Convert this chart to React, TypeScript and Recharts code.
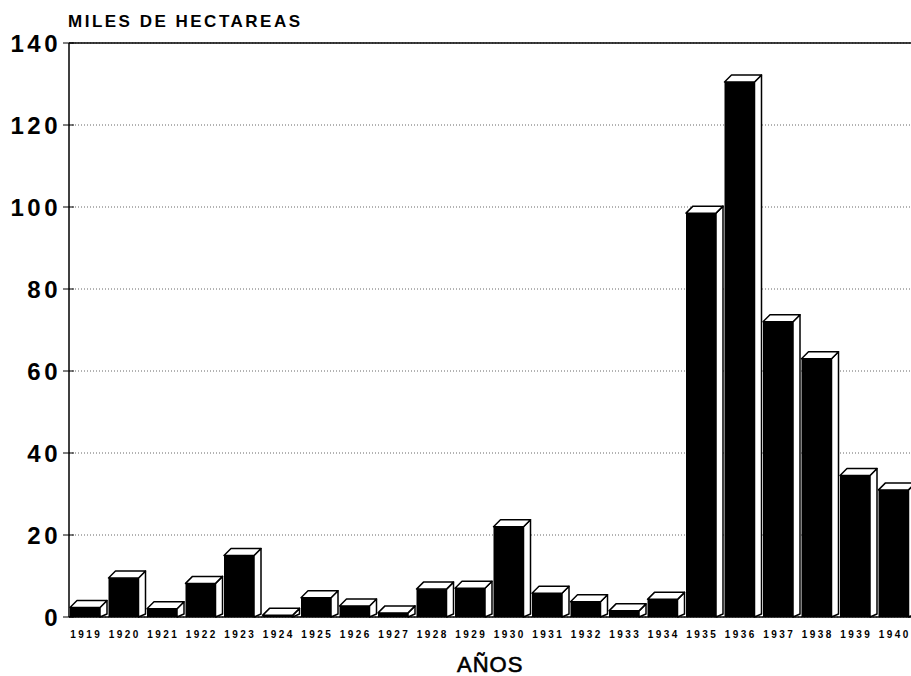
import { BarChart, Bar, XAxis, YAxis, CartesianGrid, ReferenceLine } from 'recharts';

const years = [
  '1919', '1920', '1921', '1922', '1923', '1924', '1925', '1926', '1927', '1928', '1929',
  '1930', '1931', '1932', '1933', '1934', '1935', '1936', '1937', '1938', '1939', '1940',
];
const hectareas = [
  2.3, 9.5, 2, 8.2, 15, 0.4, 4.7, 2.7, 1, 6.8, 7,
  22, 5.8, 3.7, 1.5, 4.3, 98.5, 130.5, 72, 63, 34.5, 31,
];
const yTicks = [0, 20, 40, 60, 80, 100, 120, 140];

const data = years.map((year, i) => ({ year, value: hectareas[i] }));

const FONT = '"Liberation Sans", Arial, Helvetica, sans-serif';
const DEPTH = 7;

const Bar3D = (props: any) => {
  const { x, y, width, height } = props;
  const fw = width - DEPTH;
  const base = y + height;
  const side = `${x + fw},${y} ${x + fw + DEPTH},${y - DEPTH} ${x + fw + DEPTH},${base - 3} ${x + fw},${base}`;
  const top = `${x},${y} ${x + DEPTH},${y - DEPTH} ${x + fw + DEPTH},${y - DEPTH} ${x + fw},${y}`;
  return (
    <g>
      <polygon points={side} fill="#fff" stroke="#000" strokeWidth={1.5} strokeLinejoin="round" />
      <polygon points={top} fill="#fff" stroke="#000" strokeWidth={1.5} strokeLinejoin="round" />
      <rect x={x} y={y} width={fw} height={Math.max(height, 1)} fill="#000" />
    </g>
  );
};

const YTick = ({ x, y, payload }: any) => (
  <g>
    <line x1={x + 2} x2={x + 13} y1={y} y2={y} stroke="#000" strokeWidth={1} />
    <text
      x={x}
      y={y + 3}
      textAnchor="end"
      dominantBaseline="middle"
      fontFamily={FONT}
      fontWeight="bold"
      fontSize={24}
      letterSpacing={3.5}
      fill="#000"
    >
      {payload.value}
    </text>
  </g>
);

const XTick = ({ x, y, payload }: any) => (
  <text
    x={x - 2}
    y={y + 13}
    textAnchor="middle"
    fontFamily={FONT}
    fontWeight="bold"
    fontSize={10}
    letterSpacing={2.5}
    fill="#000"
  >
    {payload.value}
  </text>
);

export default function App() {
  return (
    <div style={{ position: 'absolute', left: 0, top: 0, width: 911, height: 676, overflow: 'hidden', background: '#fff' }}>
      <div style={{
        position: 'absolute', left: 68, top: 13, fontFamily: FONT, fontWeight: 'bold',
        fontSize: 17, lineHeight: '18px', letterSpacing: 2.5, color: '#000', whiteSpace: 'nowrap',
      }}>
        MILES DE HECTAREAS
      </div>
      <BarChart
        width={920}
        height={676}
        data={data}
        margin={{ top: 43, right: 4, left: 0, bottom: 29 }}
        barSize={37}
        barCategoryGap={0}
      >
        <CartesianGrid
          vertical={false}
          stroke="#666"
          strokeDasharray="1 2"
          strokeWidth={1}
        />
        <ReferenceLine y={140} stroke="#000" strokeWidth={1.5} />
        <XAxis
          dataKey="year"
          tick={<XTick />}
          tickLine={false}
          axisLine={{ stroke: '#000', strokeWidth: 1.5 }}
          height={30}
          interval={0}
        />
        <YAxis
          domain={[0, 140]}
          ticks={yTicks}
          tick={<YTick />}
          tickLine={false}
          axisLine={{ stroke: '#000', strokeWidth: 1.5 }}
          width={69}
          interval={0}
        />
        <Bar dataKey="value" shape={<Bar3D />} isAnimationActive={false} />
      </BarChart>
      <div style={{
        position: 'absolute', left: 457, top: 654, fontFamily: FONT, WebkitTextStroke: '0.6px #000',
        fontSize: 22, lineHeight: '22px', letterSpacing: 1, color: '#000', whiteSpace: 'nowrap',
      }}>
        AÑOS
      </div>
    </div>
  );
}
